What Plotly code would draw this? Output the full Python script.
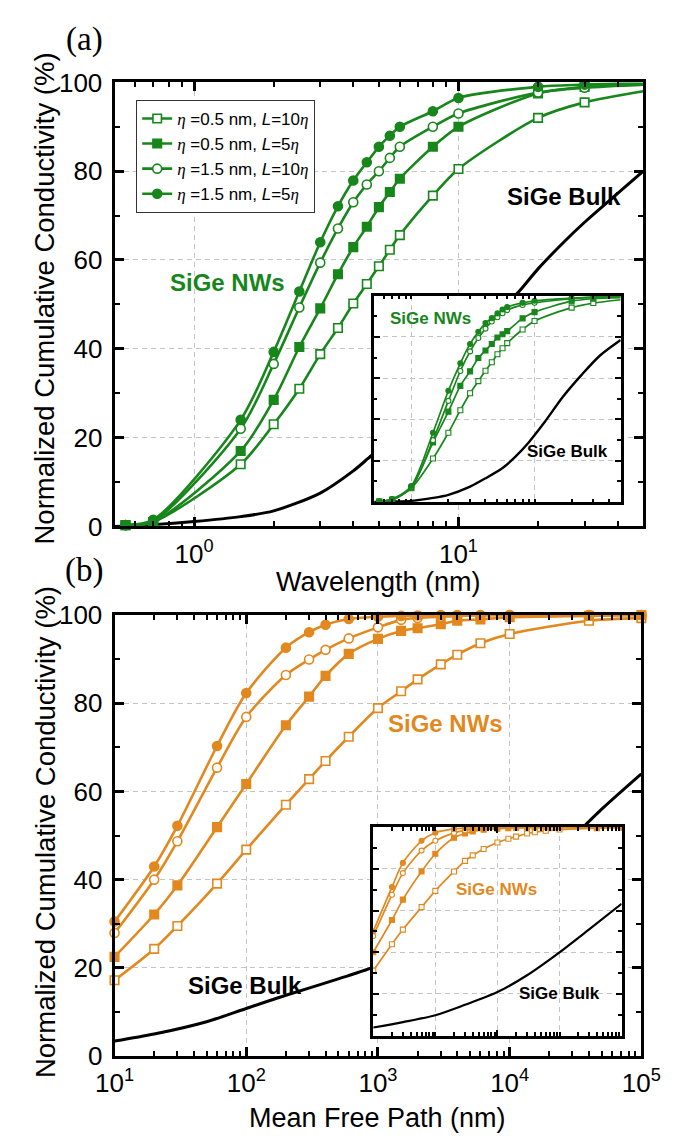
import plotly.graph_objects as go

W, H = 675, 1141
GREEN = "#17861b"
ORANGE = "#E2881E"
BLACK = "#000000"
GRID = "#c4c4c4"
FONT = "Liberation Sans, Arial, sans-serif"
SERIF = "Liberation Serif, Times New Roman, serif"

# ---------------- panel (a): main ----------------
lam_a = [0.55, 0.7, 1.5, 2, 2.5, 3, 3.5, 4, 4.5, 5, 5.5, 6, 8, 10, 20, 30, 50]
a_os = [0.3, 1.0, 14, 23, 31, 38.8, 44.7, 50.2, 54.6, 58.6, 62.3, 65.6, 74.5, 80.5, 92, 95.5, 98]
a_fs = [0.3, 1.0, 17, 28.5, 40.4, 49.1, 56.8, 62.9, 67.5, 71.9, 75.3, 78.3, 85.5, 90, 97.5, 99, 99.5]
a_oc = [0.3, 1.2, 22, 36.6, 49.3, 59.4, 67.1, 73, 77, 80, 83, 85.5, 90, 93, 97.7, 98.8, 99.5]
a_fc = [0.3, 1.5, 24, 39.3, 52.9, 64, 72.1, 77.9, 82, 85.5, 88, 90, 93.5, 96.5, 99, 99.5, 100]
lam_bulk_a = [0.5, 0.7, 1, 1.5, 2, 3, 4, 4.55, 6, 8, 10, 13, 17, 20, 25, 30, 40, 50]
a_bulk = [0, 0.4, 1.1, 2.2, 3.5, 7.5, 12.5, 15.3, 21.5, 29.5, 36.5, 45.5, 53, 58, 64, 68.5, 75, 80]

# ---------------- panel (a): inset ----------------
lam_ia = [0.55, 0.7, 1, 1.5, 2, 2.5, 3, 3.5, 4, 4.5, 5, 5.5, 6, 8, 10, 20, 30, 50]
ia_os = [0.3, 1.0, 6.7, 21.1, 33.6, 44.5, 52.7, 58.6, 63.6, 67.7, 71.6, 74.5, 77, 83.6, 87.7, 94.2, 96.4, 98]
ia_fs = [0.3, 1.2, 7, 28.9, 43.8, 56.3, 63.3, 69.8, 73.4, 76.6, 79.7, 81.3, 82.8, 89, 92, 97.3, 98.5, 99]
ia_oc = [0.3, 1.3, 7.2, 30, 49, 63.5, 73, 79.5, 84, 87.5, 89.5, 91.5, 93, 95.5, 96.5, 98.5, 99.2, 99.5]
ia_fc = [0.3, 1.5, 7.8, 33.6, 53.9, 67.2, 76.6, 82.5, 86.7, 89.1, 91.4, 93.3, 94.5, 96.5, 97.5, 98.8, 99.3, 99.6]
lam_bulk_ia = [0.5, 0.7, 1, 1.5, 2, 3, 4, 5.5, 7, 9, 12, 17, 24, 34, 50]
ia_bulk = [0, 0.2, 0.6, 2, 3.5, 7.5, 11.5, 16.5, 22, 29, 38.5, 51, 61.5, 71, 78.5]

# ---------------- panel (b): main ----------------
mfp_b = [10, 20, 30, 60, 100, 200, 300, 400, 600, 1000, 1500, 2000, 3000, 4000, 6000, 10000, 40000, 100000]
b_os = [17.2, 24.3, 29.5, 39.1, 46.8, 57.0, 62.8, 66.9, 72.4, 78.9, 82.7, 85.4, 88.8, 91.0, 93.6, 95.7, 98.7, 99.3]
b_fs = [22.5, 32.1, 38.7, 51.9, 61.7, 75.0, 81.5, 86.2, 91.2, 94.6, 96.4, 97.0, 97.9, 98.7, 99.0, 99.5, 99.8, 100]
b_oc = [27.9, 40.0, 48.7, 65.4, 76.9, 86.4, 89.9, 92.1, 94.7, 97.2, 98.9, 99.3, 99.6, 99.8, 99.9, 100, 100, 100]
b_fc = [30.5, 43.0, 52.2, 70.3, 82.3, 92.6, 96.1, 97.8, 99.1, 99.6, 99.8, 99.9, 100, 100, 100, 100, 100, 100]
mfp_bulk_b = [10, 20, 50, 100, 200, 500, 1000, 2000, 5000, 1e4, 2e4, 5e4, 1e5]
b_bulk = [3.4, 5.0, 7.8, 10.8, 13.8, 17.5, 20.5, 24.5, 31, 37.5, 44.5, 56, 64]

# ---------------- panel (b): inset ----------------
mfp_ib = [10, 20, 30, 60, 100, 200, 300, 400, 600, 1000, 1500, 2000, 3000, 4000, 6000, 10000, 40000, 100000]
ib_os = [31.2, 43.9, 50.9, 61.7, 69.5, 78.8, 83.9, 86.5, 89.6, 92.7, 94.5, 95.5, 97, 97.6, 98.3, 98.9, 99.6, 99.9]
ib_fs = [40, 55.5, 65.3, 78.8, 87.3, 95, 97, 98, 98.8, 99.3, 99.6, 99.7, 99.8, 99.9, 100, 100, 100, 100]
ib_oc = [47.8, 67.6, 78, 88.8, 93.5, 97.3, 98.5, 99, 99.4, 99.7, 99.8, 99.9, 100, 100, 100, 100, 100, 100]
ib_fc = [50.1, 71.3, 82.9, 93.5, 97.4, 99.2, 99.6, 99.8, 99.9, 100, 100, 100, 100, 100, 100, 100, 100, 100]
mfp_bulk_ib = [10, 30, 100, 300, 1000, 3000, 1e4, 3e4, 1e5]
ib_bulk = [3.9, 6.5, 9.8, 14.8, 20.9, 29, 40, 51, 63.3]

ETA = "<span style='font-family:Liberation Serif'><i>η</i></span>"
series_names = [
    f"{ETA} =0.5 nm, <i>L</i>=10{ETA}",
    f"{ETA} =0.5 nm, <i>L</i>=5{ETA}",
    f"{ETA} =1.5 nm, <i>L</i>=10{ETA}",
    f"{ETA} =1.5 nm, <i>L</i>=5{ETA}",
]
symbols = ["square", "square", "circle", "circle"]
filled = [False, True, False, True]


def px(x):
    return x / W


def py(y):
    return 1 - y / H


fig = go.Figure()


def add_group(xs, ys_list, color, xa, ya, big, legend=False):
    for i, ys in enumerate(ys_list):
        size = (9 if symbols[i] == "circle" else 8.5) if big else 5
        fig.add_trace(go.Scatter(
            x=xs, y=ys, mode="lines+markers", name=series_names[i],
            xaxis=xa, yaxis=ya, showlegend=legend, cliponaxis=False,
            line=dict(color=color, width=2.6 if big else 1.7, shape="spline", smoothing=0.8),
            marker=dict(symbol=symbols[i], size=size,
                        color=color if filled[i] else "white",
                        line=dict(color=color, width=1.6 if big else 1.1)),
        ))


def add_bulk(xs, ys, xa, ya, width):
    fig.add_trace(go.Scatter(x=xs, y=ys, mode="lines", xaxis=xa, yaxis=ya, showlegend=False,
                             line=dict(color=BLACK, width=width, shape="spline", smoothing=0.8),
                             hoverinfo="skip"))


def add_cover(xa, ya):
    # white background panel for an inset, drawn above the main panel
    fig.add_trace(go.Scatter(x=[0, 1, 1, 0, 0], y=[0, 0, 1, 1, 0], mode="lines", fill="toself",
                             fillcolor="white", line=dict(width=0), xaxis=xa, yaxis=ya,
                             showlegend=False, hoverinfo="skip"))


# main (a)
add_bulk(lam_bulk_a, a_bulk, "x", "y", 3)
add_group(lam_a, [a_os, a_fs, a_oc, a_fc], GREEN, "x", "y", True, legend=True)
# main (b)
add_bulk(mfp_bulk_b, b_bulk, "x2", "y2", 3)
add_group(mfp_b, [b_os, b_fs, b_oc, b_fc], ORANGE, "x2", "y2", True)
# covers
add_cover("x3", "y3")
add_cover("x4", "y4")
# inset (a)
add_bulk(lam_bulk_ia, ia_bulk, "x5", "y5", 2.4)
add_group(lam_ia, [ia_os, ia_fs, ia_oc, ia_fc], GREEN, "x5", "y5", False)
# inset (b)
add_bulk(mfp_bulk_ib, ib_bulk, "x6", "y6", 2.2)
add_group(mfp_ib, [ib_os, ib_fs, ib_oc, ib_fc], ORANGE, "x6", "y6", False)

# ---------------- axes ----------------
tickfont = dict(family=FONT, size=26, color=BLACK)


def xaxis_cfg(dom, rng, tickvals, ticktext, anchor, big=True):
    return dict(
        domain=dom, type="log", range=rng, anchor=anchor,
        tickmode="array", tickvals=tickvals, ticktext=ticktext,
        showticklabels=big, tickfont=tickfont, ticklabelstandoff=2,
        ticks="inside", ticklen=9 if big else 6, tickwidth=2.5 if big else 2, tickcolor=BLACK,
        mirror="allticks", showline=True, linewidth=3 if big else 2.5, linecolor=BLACK,
        showgrid=True, gridcolor=GRID, gridwidth=1, griddash="5px,4px",
        minor=dict(ticks="inside", ticklen=5 if big else 3.5, tickwidth=2 if big else 1.5,
                   tickcolor=BLACK, dtick="D1", showgrid=False),
        zeroline=False, fixedrange=True,
    )


def yaxis_cfg(dom, anchor, big=True):
    return dict(
        domain=dom, range=[0, 100], anchor=anchor,
        tickmode="array", tickvals=[0, 20, 40, 60, 80, 100],
        showticklabels=big, tickfont=tickfont, ticklabelstandoff=4,
        ticks="inside", ticklen=9 if big else 6, tickwidth=2.5 if big else 2, tickcolor=BLACK,
        mirror="allticks", showline=True, linewidth=3 if big else 2.5, linecolor=BLACK,
        showgrid=True, gridcolor=GRID, gridwidth=1, griddash="5px,4px",
        minor=dict(ticks="inside", ticklen=5 if big else 3.5, tickwidth=2 if big else 1.5,
                   tickcolor=BLACK, tickvals=[10, 30, 50, 70, 90], showgrid=False),
        zeroline=False, fixedrange=True,
    )


hidden = dict(visible=False, range=[0, 1], fixedrange=True)

# pixel boxes (left, right, top, bottom)
A = (92, 654, 61, 517)
B = (92, 652, 608, 1061)
IA = (368, 630, 280, 492)
IB = (367, 631, 826, 1040)


def xd(b):
    return [px(b[0]), px(b[1])]


def yd(b):
    return [py(b[3]), py(b[2])]


lay = dict(
    xaxis=xaxis_cfg(xd(A), [-0.30103, 1.69897], [1, 10], ["10<sup>0</sup>", "10<sup>1</sup>"], "y"),
    yaxis=yaxis_cfg(yd(A), "x"),
    xaxis2=xaxis_cfg(xd(B), [1, 5], [10, 100, 1000, 10000, 100000],
                     ["10<sup>1</sup>", "10<sup>2</sup>", "10<sup>3</sup>", "10<sup>4</sup>", "10<sup>5</sup>"], "y2"),
    yaxis2=yaxis_cfg(yd(B), "x2"),
    xaxis3=dict(hidden, domain=xd(IA), anchor="y3"),
    yaxis3=dict(hidden, domain=yd(IA), anchor="x3"),
    xaxis4=dict(hidden, domain=xd(IB), anchor="y4"),
    yaxis4=dict(hidden, domain=yd(IB), anchor="x4"),
    xaxis5=xaxis_cfg(xd(IA), [-0.30103, 1.69897], [1, 10], ["", ""], "y5", big=False),
    yaxis5=yaxis_cfg(yd(IA), "x5", big=False),
    xaxis6=xaxis_cfg(xd(IB), [1, 5], [10, 100, 1000, 10000, 100000], [""] * 5, "y6", big=False),
    yaxis6=yaxis_cfg(yd(IB), "x6", big=False),
)
fig.update_layout(**lay)


def ann(text, x, y, size, color=BLACK, family=FONT, angle=0):
    return dict(text=text, x=px(x), y=py(y), xref="paper", yref="paper", showarrow=False,
                xanchor="center", yanchor="middle", textangle=angle,
                font=dict(family=family, size=size, color=color))


annotations = [
    ann("(a)", 60, 17, 33, family=SERIF),
    ann("(b)", 60, 562, 33, family=SERIF),
    ann("Normalized Cumulative Conductivity (%)", 18, 283, 27.5, angle=-90),
    ann("Normalized Cumulative Conductivity (%)", 18, 831, 27.5, angle=-90),
    ann("Wavelength (nm)", (A[0] + A[1]) / 2, 574, 27),
    ann("Mean Free Path (nm)", (B[0] + B[1]) / 2, 1125, 27),
    ann("<b>SiGe NWs</b>", 212, 267, 24, GREEN),
    ann("<b>SiGe Bulk</b>", 570, 178, 24),
    ann("<b>SiGe NWs</b>", 428, 303, 17, GREEN),
    ann("<b>SiGe Bulk</b>", 574, 440, 17),
    ann("<b>SiGe NWs</b>", 444, 719, 24, ORANGE),
    ann("<b>SiGe Bulk</b>", 231, 988, 24),
    ann("<b>SiGe NWs</b>", 498, 890, 17, ORANGE),
    ann("<b>SiGe Bulk</b>", 565, 997, 17),
]

fig.update_layout(
    width=W, height=H, autosize=False,
    margin=dict(l=0, r=0, t=0, b=0),
    paper_bgcolor="white", plot_bgcolor="white",
    font=dict(family=FONT, color=BLACK),
    annotations=annotations,
    showlegend=True,
    legend=dict(x=px(115), y=py(79), xanchor="left", yanchor="top",
                bgcolor="white", bordercolor="#333333", borderwidth=1,
                font=dict(family=FONT, size=17, color=BLACK),
                tracegroupgap=0, itemwidth=30),
)

fig.write_html("out.html")
